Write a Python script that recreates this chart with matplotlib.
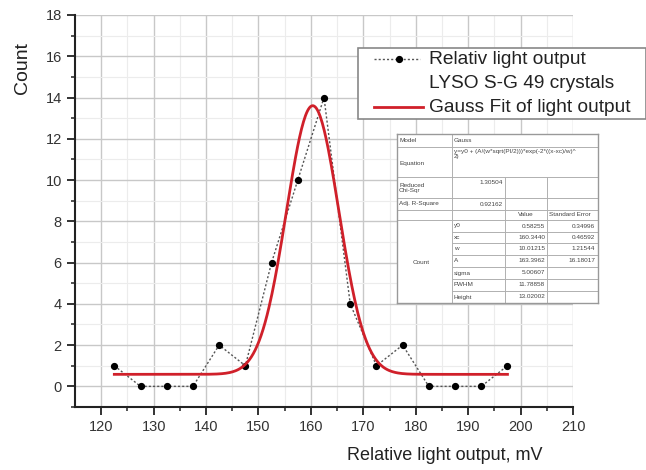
import numpy as np
import matplotlib
matplotlib.use("Agg")
import matplotlib.pyplot as plt
from matplotlib.lines import Line2D
from matplotlib.patches import Rectangle

plt.rcParams['font.family'] = ['Liberation Sans', 'DejaVu Sans']

# ---- data ----
light_output = [122.5, 127.5, 132.5, 137.5, 142.5, 147.5, 152.5, 157.5,
                162.5, 167.5, 172.5, 177.5, 182.5, 187.5, 192.5, 197.5]
counts = [1, 0, 0, 0, 2, 1, 6, 10, 14, 4, 1, 2, 0, 0, 0, 1]

# Gauss fit parameters (from the inset table)
y0 = 0.58255
xc = 160.3440
w = 10.01215
A = 163.3962
fit_range = [122.5, 197.5]

x_ticks = [120, 130, 140, 150, 160, 170, 180, 190, 200, 210]
y_ticks = [0, 2, 4, 6, 8, 10, 12, 14, 16, 18]

legend_labels = ["Relativ light output", "LYSO S-G 49 crystals", "Gauss Fit of light output"]

table_rows_top = [
    ("Model", "Gauss"),
    ("Equation", "y=y0 + (A/(w*sqrt(PI/2)))*exp(-2*((x-xc)/w)^\n2)"),
]
chi_label, chi_value = "Reduced\nChi-Sqr", "1.30504"
r2_label, r2_value = "Adj. R-Square", "0.92162"
param_names = ["y0", "xc", "w", "A", "sigma", "FWHM", "Height"]
param_values = ["0.58255", "160.3440", "10.01215", "163.3962", "5.00607", "11.78858", "13.02002"]
param_errors = ["0.34996", "0.46592", "1.21544", "16.18017", "", "", ""]

W, H = 646, 470
fig = plt.figure(figsize=(W / 100, H / 100), dpi=100)
ax = fig.add_axes([75 / W, 1 - 407 / H, (573 - 75) / W, (407 - 15) / H])

# grid
ax.set_xlim(115, 210)
ax.set_ylim(-1, 18)
ax.set_xticks(x_ticks)
ax.set_yticks(y_ticks)
ax.set_xticks(np.arange(125, 210, 10), minor=True)
ax.set_yticks(np.arange(-1, 18, 2), minor=True)
ax.grid(True, which='major', color='#c8c8c8', lw=1.0)
ax.grid(True, which='minor', color='#ececec', lw=0.8)
ax.set_axisbelow(True)

for s in ['top', 'right']:
    ax.spines[s].set_visible(False)
for s in ['left', 'bottom']:
    ax.spines[s].set_linewidth(1.5)
    ax.spines[s].set_color('#222222')
ax.tick_params(which='major', direction='out', length=6, width=1.3, labelsize=10.5,
               colors='#222222', labelcolor='#333333')
ax.tick_params(which='minor', direction='out', length=3, width=1.1, colors='#222222')

# data
ax.plot(light_output, counts, ls=(0, (1.5, 1.5)), color='#555555', lw=1.0,
        marker='o', ms=4.2, mfc='black', mec='black', zorder=3)
xf = np.linspace(fit_range[0], fit_range[1], 400)
yf = y0 + A / (w * np.sqrt(np.pi / 2)) * np.exp(-2 * ((xf - xc) / w) ** 2)
ax.plot(xf, yf, color='#d0202a', lw=2.0, zorder=4)

fig.text(445 / W, 1 - 455 / H, "Relative light output, mV", ha='center', va='center',
         fontsize=13, color='#222222')
fig.text(22 / W, 1 - 68 / H, "Count", ha='center', va='center', rotation=90,
         fontsize=14, color='#222222')

# legend (manual)
lx0, ly0, lx1, ly1 = 358, 48, 646, 119
fig.add_artist(Rectangle((lx0 / W, 1 - ly1 / H), (lx1 - lx0) / W, (ly1 - ly0) / H,
                         transform=fig.transFigure, facecolor='white',
                         edgecolor='#888888', lw=1.2, zorder=10))
rows_y = [59, 83, 107]
fig.add_artist(Line2D([374 / W, 420 / W], [1 - rows_y[0] / H] * 2, transform=fig.transFigure,
                      ls=(0, (1.5, 1.5)), color='#555555', lw=1.0, zorder=11))
fig.add_artist(Line2D([399 / W], [1 - rows_y[0] / H], transform=fig.transFigure,
                      marker='o', ms=4.2, color='black', zorder=11))
fig.add_artist(Line2D([374 / W, 423 / W], [1 - rows_y[2] / H] * 2, transform=fig.transFigure,
                      color='#d0202a', lw=2.0, zorder=11))
for yy, lab in zip(rows_y, legend_labels):
    fig.text(429 / W, 1 - yy / H, lab, ha='left', va='center', fontsize=13.8,
             color='#222222', zorder=12)

# inset table
tx0, ty0, tx1, ty1 = 397, 134, 598, 303
tax = fig.add_axes([tx0 / W, 1 - ty1 / H, (tx1 - tx0) / W, (ty1 - ty0) / H])
tax.set_xlim(tx0, tx1)
tax.set_ylim(ty1, ty0)
tax.set_xticks([])
tax.set_yticks([])
for s in tax.spines.values():
    s.set_color('#999999')
    s.set_linewidth(1.0)
tax.set_facecolor('white')

c1, c2, c3 = 452, 505, 547
row_edges = [134, 147, 177, 198, 210, 220, 232, 243, 255, 267, 279, 291, 303]
lc = '#b0b0b0'
for yy in row_edges[1:-1]:
    if yy > 220:
        tax.plot([c1, tx1], [yy, yy], color=lc, lw=0.7)
    else:
        tax.plot([tx0, tx1], [yy, yy], color=lc, lw=0.7)
tax.plot([c1, c1], [ty0, ty1], color=lc, lw=0.7)
tax.plot([c2, c2], [177, ty1], color=lc, lw=0.7)
tax.plot([c3, c3], [177, ty1], color=lc, lw=0.7)

fs = 4.6
tc = '#444444'
tax.text(tx0 + 2, 140.5, table_rows_top[0][0], fontsize=fs, va='center', color=tc)
tax.text(c1 + 2, 140.5, table_rows_top[0][1], fontsize=fs, va='center', color=tc)
tax.text(tx0 + 2, 163, table_rows_top[1][0], fontsize=fs, va='center', color=tc)
tax.text(c1 + 2, 149, table_rows_top[1][1], fontsize=fs, va='top', color=tc, linespacing=1.1)
tax.text(tx0 + 2, 188, chi_label, fontsize=fs, va='center', color=tc, linespacing=1.2)
tax.text(c2 - 2, 183, chi_value, fontsize=fs, va='center', ha='right', color=tc)
tax.text(tx0 + 2, 204, r2_label, fontsize=fs, va='center', color=tc)
tax.text(c2 - 2, 204, r2_value, fontsize=fs, va='center', ha='right', color=tc)
tax.text((c2 + c3) / 2, 215, "Value", fontsize=fs, va='center', ha='center', color=tc)
tax.text(c3 + 2, 215, "Standard Error", fontsize=fs, va='center', ha='left', color=tc,
         clip_on=True)
tax.text((tx0 + c1) / 2 - 3, 263, "Count", fontsize=fs, va='center', ha='center', color=tc)
for i, (n, v, e) in enumerate(zip(param_names, param_values, param_errors)):
    yy = (row_edges[5 + i] + row_edges[6 + i]) / 2
    tax.text(c1 + 2, yy, n, fontsize=fs, va='center', color=tc)
    tax.text(c3 - 2, yy, v, fontsize=fs, va='center', ha='right', color=tc)
    if e:
        tax.text(tx1 - 3, yy, e, fontsize=fs, va='center', ha='right', color=tc)

fig.savefig("out.png", dpi=100, facecolor='white')
